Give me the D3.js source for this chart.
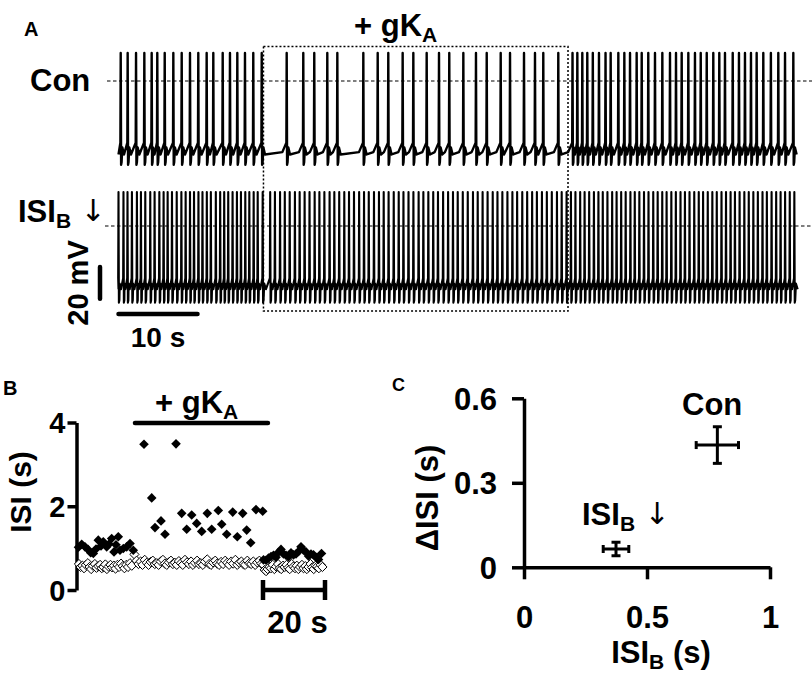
<!DOCTYPE html>
<html><head><meta charset="utf-8">
<script src="https://cdn.jsdelivr.net/npm/d3@7"></script>
<style>
body{margin:0;background:#fff}
svg text{font-family:"Liberation Sans",Arial,Helvetica,sans-serif;font-weight:bold;fill:#000}
</style>
</head><body><svg id="c" width="812" height="682"></svg>
<script>
// ================= Panel A data (voltage traces) =================
const traceDuration = 86;                       // s
const gKAPeriod = [18.35, 56.9];                // s, dotted box
// spike times of the control cell (s)
const conSpikeTimes = [0.28,1.16,2.22,3.27,4.20,4.91,5.85,6.94,8.00,9.05,10.10,11.16,12.00,13.19,14.11,15.04,16.01,17.06,18.13,
  21.29,23.39,24.78,26.43,27.70,30.99,32.81,34.15,35.97,37.32,39.01,40.57,41.87,43.65,45.25,46.61,48.38,49.56,51.33,52.72,53.77,55.67,
  57.47,58.08,58.71,59.34,60.04,60.82,61.65,62.30,63.27,64.03,64.75,65.59,66.23,67.06,67.91,68.84,69.81,70.57,71.29,72.13,72.97,73.70,
  74.46,75.29,76.05,76.77,77.75,78.54,79.30,80.06,80.78,81.62,82.58,83.52,84.37,85.42];
// inter-spike intervals of the ISI_B-reduced cell (s)
const isiBTraceStart = 0.0;
const isiBTraceIntervals = [
  0.63,0.51,0.56,0.63,0.51,0.55,0.63,0.55,0.6,0.54,0.51,0.55,0.6,0.59,0.54,0.55,0.51,0.56,0.51,0.55,0.51,0.63,0.55,0.51,0.51,0.55,0.55,0.51,0.55,0.51,0.55,0.51,0.63,
  0.95,0.6,0.65,0.6,0.62,0.66,0.6,0.63,0.62,0.65,0.6,0.63,0.66,0.6,0.62,0.64,0.6,0.63,0.65,0.62,0.6,0.66,0.63,0.6,0.62,0.65,0.63,0.6,0.64,0.62,
  0.66,0.6,0.63,0.62,0.6,0.65,0.63,0.62,0.6,0.64,0.63,0.66,0.6,0.62,0.63,0.65,0.6,0.62,0.64,0.63,0.6,0.65,0.62,0.63,0.6,0.64,0.62,0.63,0.65,0.6,0.62,
  0.55,0.57,0.6,0.56,0.58,0.6,0.57,0.55,0.59,0.6,0.56,0.58,0.57,0.6,0.55,0.58,0.59,0.57,0.6,0.56,0.58,0.55,0.6,0.57,0.59,0.56,0.58,0.6,0.57,0.55,
  0.59,0.58,0.56,0.6,0.57,0.58,0.55,0.59,0.6,0.56,0.58,0.57,0.59,0.55,0.6,0.58,0.56,0.57,0.59,0.58];
// membrane potential levels (mV): peak, AHP trough, recovery, plateau, threshold
const conLevels  = [17.7, -53, -42, -46.5, -39];
const isiBLevels = [21.5, -48.5, -36.5, -40, -33];
const scaleBarTime = [0, 10];     // s
const scaleBarVolt = [-46, -26];  // mV

// ================= Panel B data (ISI vs time) =================
const bConTimes = [0.48,1.52,2.58,3.55,4.42,5.26,6.13,6.87,7.74,8.48,9.58,10.32,11.19,11.94,12.58,13.32,13.87,14.94,16.03,17.10,18.16,
  21.61,24.10,25.16,27.10,28.39,31.94,33.77,35.39,37.0,38.61,40.23,42.03,43.45,45.58,46.68,48.29,50.23,51.71,53.45,54.74,56.03,57.74,59.9,
  60.16,60.97,61.77,62.58,63.39,64.19,65.0,65.81,66.61,67.42,68.23,69.03,69.84,70.65,71.45,72.26,73.06,73.87,74.68,75.48,76.29,77.10,77.90,78.87];
const bConISI = [1.02,1.09,1.03,0.97,0.89,0.87,0.98,1.19,1.05,1.15,1.03,1.10,1.23,0.91,1.08,1.27,0.95,0.99,1.03,1.11,0.95,
  3.48,2.2,1.49,1.65,1.33,3.49,1.83,1.45,1.79,1.59,1.40,1.83,1.45,1.90,1.57,1.33,1.86,1.27,1.83,1.43,1.13,1.92,1.88,
  0.72,0.71,0.76,0.80,0.83,0.78,0.90,0.97,0.86,0.83,0.79,0.89,0.84,0.86,0.92,1.03,0.95,0.91,0.81,0.86,0.84,0.78,0.73,0.87];
const bIsiBStart = 0.0;
const bIsiBIntervals = [
  0.62,0.55,0.58,0.52,0.6,0.64,0.55,0.5,0.58,0.62,0.53,0.57,0.6,0.52,0.55,0.61,0.5,0.56,0.6,0.54,0.58,0.51,0.6,0.55,0.63,0.57,0.52,0.6,0.55,0.64,0.58,0.85,
  0.7,0.62,0.68,0.6,0.72,0.65,0.6,0.67,0.7,0.62,0.64,0.6,0.68,0.72,0.63,0.6,0.66,0.7,0.62,0.65,0.6,0.69,0.64,0.6,0.72,0.66,0.62,0.68,0.6,0.65,0.7,0.62,
  0.64,0.6,0.68,0.73,0.62,0.6,0.66,0.7,0.63,0.6,0.67,0.62,0.7,0.65,0.6,0.68,0.63,0.72,0.6,0.65,0.68,0.62,0.6,0.7,0.64,0.62,0.68,0.6,0.66,0.7,0.63,0.6,
  0.48,0.45,0.5,0.55,0.52,0.6,0.5,0.56,0.62,0.52,0.5,0.58,0.55,0.6,0.53,0.5,0.62,0.56,0.52,0.58,0.5,0.55,0.6,0.52,0.57,0.5,0.55,0.62,0.54,0.5,0.58,0.56,0.52,0.6,0.55];
const bYTicks = [0, 2, 4];
const bGKABar = [18.7, 61.6];     // s
const bScaleBar = [60, 80];       // s

// ================= Panel C data =================
const cNames = ["Con", "ISIB"];
const cX = [0.786, 0.374];
const cY = [0.434, 0.065];
const cXErr = [0.086, 0.052];
const cYErr = [0.065, 0.024];
const cXTicks = [0, 0.5, 1];
const cYTicks = [0, 0.3, 0.6];

// ================= drawing =================
const svg = d3.select("#c");

function richText(g, x, y, parts, anchor, transform) {
  const t = g.append("text").attr("x", x).attr("y", y).attr("text-anchor", anchor || "start");
  if (transform) t.attr("transform", transform);
  parts.forEach(p => {
    const s = t.append("tspan").text(p.t).attr("font-size", p.s);
    if (p.dy) s.attr("dy", p.dy);
    if (p.w) s.attr("font-weight", p.w);
    if (p.f) s.style("font-family", p.f);
  });
  return t;
}
const ARROW_FONT = '"DejaVu Sans", sans-serif';

// ---------- Panel A ----------
const A = svg.append("g");
const xA = d3.scaleLinear().domain([0, traceDuration]).range([118.5, 797.9]);
const yCon = d3.scaleLinear().domain([0, 20]).range([81, 49.4]);
const yIsiB = d3.scaleLinear().domain([0, 20]).range([226, 194.4]);

function tracePoints(spikes, lv, tEnd) {
  const [pk, tr, rec, plat, th] = lv;
  const pts = [[0, plat], [spikes[0] - 0.04, th]];
  spikes.forEach((ts, i) => {
    const tn = i + 1 < spikes.length ? spikes[i + 1] : tEnd + 1;
    const isi = tn - ts;
    pts.push([ts, pk], [ts + 0.05, tr], [ts + 0.11, tr + 1.5],
             [ts + Math.min(0.2, isi * 0.25), rec],
             [ts + Math.min(0.42, isi * 0.5), plat]);
    if (isi > 1.2) pts.push([tn - 0.55, plat + 1.5]);
    pts.push([tn - 0.04, th]);
  });
  return pts.filter(p => p[0] <= tEnd);
}
let acc = isiBTraceStart;
const isiBSpikes = [acc];
isiBTraceIntervals.forEach(d => { acc += d; isiBSpikes.push(acc); });

const lineCon = d3.line().x(d => xA(d[0])).y(d => yCon(d[1]));
const lineB = d3.line().x(d => xA(d[0])).y(d => yIsiB(d[1]));

// dashed 0 mV lines
A.append("line").attr("x1", 107).attr("x2", 812).attr("y1", yCon(0)).attr("y2", yCon(0))
  .attr("stroke", "#000").attr("stroke-width", 1.2).attr("stroke-dasharray", "3.5,2.5");
A.append("line").attr("x1", 105).attr("x2", 812).attr("y1", yIsiB(0)).attr("y2", yIsiB(0))
  .attr("stroke", "#000").attr("stroke-width", 1.2).attr("stroke-dasharray", "3.5,2.5");

A.append("path").attr("d", lineCon(tracePoints(conSpikeTimes, conLevels, traceDuration)))
  .attr("fill", "none").attr("stroke", "#000").attr("stroke-width", 2.4).attr("stroke-linejoin", "round");
A.append("path").attr("d", lineB(tracePoints(isiBSpikes, isiBLevels, traceDuration)))
  .attr("fill", "none").attr("stroke", "#000").attr("stroke-width", 2.1).attr("stroke-linejoin", "round");

// dotted gKA box
A.append("rect").attr("x", xA(gKAPeriod[0])).attr("width", xA(gKAPeriod[1]) - xA(gKAPeriod[0]))
  .attr("y", 46.5).attr("height", 264.5).attr("fill", "none").attr("stroke", "#000")
  .attr("stroke-width", 1.5).attr("stroke-dasharray", "2,2");

// scale bars
A.append("line").attr("x1", xA(scaleBarTime[0])).attr("x2", xA(scaleBarTime[1])).attr("y1", 314).attr("y2", 314)
  .attr("stroke", "#000").attr("stroke-width", 4.5).attr("stroke-linecap", "round");
A.append("line").attr("x1", 100).attr("x2", 100).attr("y1", yIsiB(scaleBarVolt[0])).attr("y2", yIsiB(scaleBarVolt[1]))
  .attr("stroke", "#000").attr("stroke-width", 4.5).attr("stroke-linecap", "round");

richText(A, 24, 36, [{t: "A", s: 20}]);
richText(A, 30, 91, [{t: "Con", s: 31}]);
richText(A, 354, 36, [{t: "+ gK", s: 31}, {t: "A", s: 21, dy: 6}]);
richText(A, 18, 222, [{t: "ISI", s: 31}, {t: "B", s: 21, dy: 6}, {t: " \u2193", s: 30, dy: -7, w: "normal", f: ARROW_FONT}]);
richText(A, 0, 0, [{t: "20 mV", s: 29}], "middle", "translate(88,283) rotate(-90)");
richText(A, 158, 347, [{t: "10 s", s: 28}], "middle");

// ---------- Panel B ----------
const B = svg.append("g");
const xB = d3.scaleLinear().domain([0, 80]).range([77, 325]);
const yB = d3.scaleLinear().domain([0, 4]).range([590, 422.5]);
const diamond = r => `M0,${-r}L${r},0L0,${r}L${-r},0Z`;

const bAxis = B.append("g").attr("transform", "translate(76.5,0)")
  .call(d3.axisLeft(yB).tickValues(bYTicks).tickSize(9).tickSizeOuter(0).tickPadding(2).tickFormat(d => String(d)));
bAxis.select(".domain").attr("stroke-width", 3.5);
bAxis.selectAll(".tick line").attr("stroke-width", 3.5);
bAxis.selectAll("text").attr("font-size", 29).attr("font-family", null).attr("dy", "0.36em");

let accB = bIsiBStart;
const bIsiBPts = bIsiBIntervals.map(d => { accB += d; return [accB, d]; });
B.append("g").selectAll("path").data(bIsiBPts).join("path")
  .attr("transform", d => `translate(${xB(d[0])},${yB(d[1])})`)
  .attr("d", diamond(4.6)).attr("fill", "#fff").attr("stroke", "#000").attr("stroke-width", 1);
B.append("g").selectAll("path").data(bConTimes.map((t, i) => [t, bConISI[i]])).join("path")
  .attr("transform", d => `translate(${xB(d[0])},${yB(d[1])})`)
  .attr("d", diamond(4.8)).attr("fill", "#000");

B.append("line").attr("x1", xB(bGKABar[0])).attr("x2", xB(bGKABar[1])).attr("y1", 423).attr("y2", 423)
  .attr("stroke", "#000").attr("stroke-width", 4.5).attr("stroke-linecap", "round");
// 20 s scale bar
B.append("line").attr("x1", xB(bScaleBar[0])).attr("x2", xB(bScaleBar[1])).attr("y1", 590).attr("y2", 590)
  .attr("stroke", "#000").attr("stroke-width", 4.5);
[bScaleBar[0], bScaleBar[1]].forEach(t => B.append("line").attr("x1", xB(t)).attr("x2", xB(t))
  .attr("y1", 580).attr("y2", 600).attr("stroke", "#000").attr("stroke-width", 4.5));

richText(B, 3, 395, [{t: "B", s: 20}]);
richText(B, 155, 413, [{t: "+ gK", s: 31}, {t: "A", s: 21, dy: 6}]);
richText(B, 0, 0, [{t: "ISI (s)", s: 30}], "middle", "translate(31,492) rotate(-90)");
richText(B, 297.5, 633, [{t: "20 s", s: 31}], "middle");

// ---------- Panel C ----------
const C = svg.append("g");
const xC = d3.scaleLinear().domain([0, 1]).range([524, 770]);
const yC = d3.scaleLinear().domain([0, 0.6]).range([567.3, 398.3]);

const cx = C.append("g").attr("transform", `translate(0,${yC(0)})`)
  .call(d3.axisBottom(xC).tickValues(cXTicks).tickSize(12).tickSizeOuter(0).tickPadding(27).tickFormat(d => String(d)));
const cy = C.append("g").attr("transform", `translate(${xC(0)},0)`)
  .call(d3.axisLeft(yC).tickValues(cYTicks).tickSize(12).tickSizeOuter(0).tickPadding(15).tickFormat(d => String(d)));
[cx, cy].forEach(a => {
  a.select(".domain").attr("stroke-width", 3.5);
  a.selectAll(".tick line").attr("stroke-width", 3.5);
  a.selectAll("text").attr("font-size", 31).attr("font-family", null);
});
cy.selectAll("text").attr("dy", "0.35em");

const cData = cNames.map((n, i) => ({n, x: cX[i], y: cY[i], ex: cXErr[i], ey: cYErr[i]}));
const eb = C.append("g").selectAll("g").data(cData).join("g").attr("stroke", "#000").attr("stroke-width", 3);
eb.append("line").attr("x1", d => xC(d.x - d.ex)).attr("x2", d => xC(d.x + d.ex)).attr("y1", d => yC(d.y)).attr("y2", d => yC(d.y));
eb.append("line").attr("x1", d => xC(d.x)).attr("x2", d => xC(d.x)).attr("y1", d => yC(d.y - d.ey)).attr("y2", d => yC(d.y + d.ey));
eb.append("line").attr("x1", d => xC(d.x - d.ex)).attr("x2", d => xC(d.x - d.ex)).attr("y1", d => yC(d.y) - 4).attr("y2", d => yC(d.y) + 4);
eb.append("line").attr("x1", d => xC(d.x + d.ex)).attr("x2", d => xC(d.x + d.ex)).attr("y1", d => yC(d.y) - 4).attr("y2", d => yC(d.y) + 4);
eb.append("line").attr("y1", d => yC(d.y - d.ey)).attr("y2", d => yC(d.y - d.ey)).attr("x1", d => xC(d.x) - 4.5).attr("x2", d => xC(d.x) + 4.5);
eb.append("line").attr("y1", d => yC(d.y + d.ey)).attr("y2", d => yC(d.y + d.ey)).attr("x1", d => xC(d.x) - 4.5).attr("x2", d => xC(d.x) + 4.5);

richText(C, 392, 391, [{t: "C", s: 18}]);
richText(C, 682, 415, [{t: "Con", s: 31}]);
richText(C, 582, 525, [{t: "ISI", s: 31}, {t: "B", s: 21, dy: 6}, {t: " \u2193", s: 30, dy: -7, w: "normal", f: ARROW_FONT}]);
richText(C, 661, 663, [{t: "ISI", s: 31}, {t: "B", s: 21, dy: 6}, {t: " (s)", s: 31, dy: -6}], "middle");
richText(C, 0, 0, [{t: "\u0394ISI (s)", s: 31}], "middle", "translate(438,498) rotate(-90)");
</script>
</body></html>
